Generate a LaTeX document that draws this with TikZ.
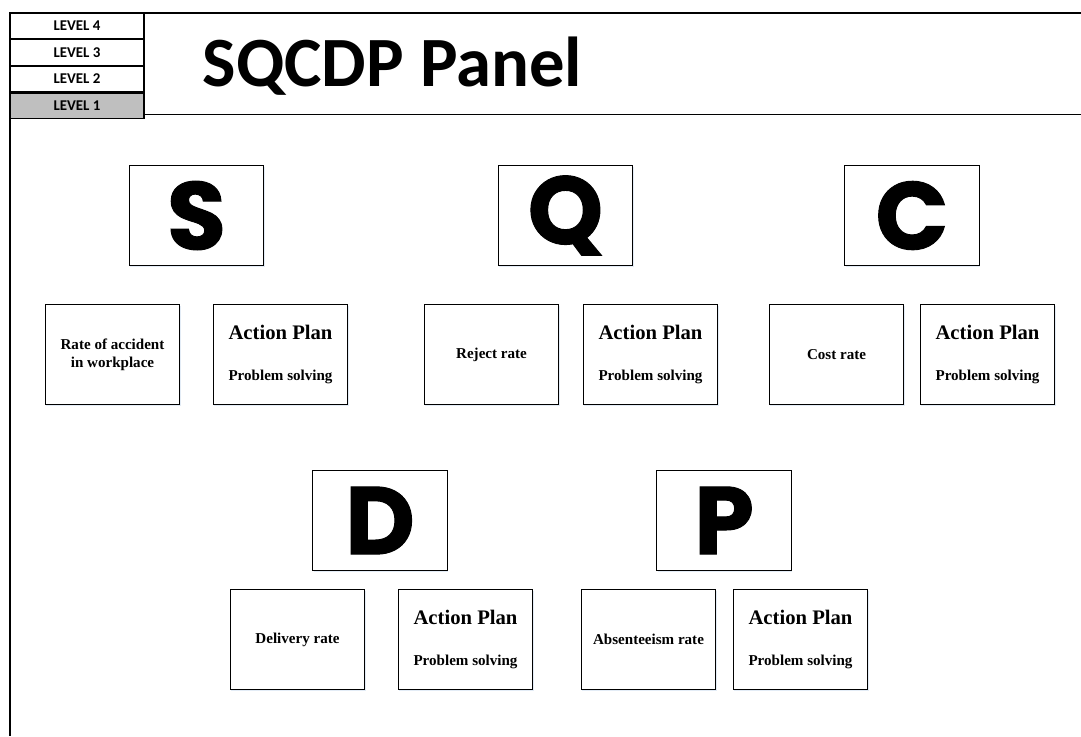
\documentclass[tikz,border=0pt]{standalone}
\usepackage{fontspec}
\setmainfont{Liberation Serif}
\newfontfamily\titlefont{Carlito}
\newfontfamily\letterfont{Poppins}[BoldFeatures={FakeBold=1}]
\usetikzlibrary{positioning,shadows}

\tikzset{
  softshadow/.style = {drop shadow={shadow xshift=0.8pt, shadow yshift=-1.2pt, fill=cyan!40!blue, opacity=0.12}},
  level/.style = {draw, line width=0.9pt, fill=white, minimum width=100.5pt, minimum height=19.1pt, inner sep=0pt,
                  font=\titlefont\bfseries\fontsize{11.2}{12}\selectfont},
  letter/.style = {draw, line width=0.9pt, fill=white, softshadow, minimum width=101pt, minimum height=75.5pt, inner sep=0pt,
                   font=\letterfont\bfseries\fontsize{72}{72}\selectfont},
  metric/.style = {draw, line width=0.9pt, fill=white, softshadow, minimum width=101pt, minimum height=75.5pt, inner sep=0pt,
                   align=center, font=\bfseries\fontsize{11.3}{13.5}\selectfont},
  plan/.style = {metric, font=\bfseries}
}
\newcommand{\plantext}{{\fontsize{15.5}{18}\selectfont Action Plan}\\[19pt]{\fontsize{11.3}{13}\selectfont Problem solving}}

\begin{document}
\begin{tikzpicture}[x=0.75pt, y=-0.75pt]
  \useasboundingbox (0,0) rectangle (1081,736);

  % panel frame
  \draw[line width=0.9pt] (10,13) -- (1081,13);
  \draw[line width=0.9pt, softshadow] (10,114.5) -- (1081,114.5);
  \draw[line width=0.9pt] (10,13) -- (10,736);

  % level selector
  \node[level] (lv4) at (77,25.75) {LEVEL 4};
  \node[level] (lv3) [below=0pt of lv4] {LEVEL 3};
  \node[level] (lv2) [below=0pt of lv3] {LEVEL 2};
  \node[level, fill=black!25] (lv1) [below=0pt of lv2] {LEVEL 1};

  \node[font=\titlefont\bfseries\fontsize{53}{53}\selectfont, anchor=base west] (title) at (198,86) {SQCDP Panel};

  % safety
  \node[letter] (S) at (196.5,215.5) {S};
  \node[metric] (s1) at (112.5,354.5) {Rate of accident\\in workplace};
  \node[plan] (s2) at (280.5,354.5) {\plantext};

  % quality
  \node[letter] (Q) at (565.5,215.5) {Q};
  \node[metric] (q1) at (491.5,354.5) {Reject rate};
  \node[plan] (q2) at (650.5,354.5) {\plantext};

  % cost
  \node[letter] (C) at (912,215.5) {C};
  \node[metric] (c1) at (836.5,354.5) {Cost rate};
  \node[plan] (c2) at (987.5,354.5) {\plantext};

  % delivery
  \node[letter] (D) at (380,520.5) {D};
  \node[metric] (d1) at (297.5,639.5) {Delivery rate};
  \node[plan] (d2) at (465.5,639.5) {\plantext};

  % people
  \node[letter] (P) at (724,520.5) {P};
  \node[metric] (p1) at (648.5,639.5) {Absenteeism rate};
  \node[plan] (p2) at (800.5,639.5) {\plantext};
\end{tikzpicture}
\end{document}
